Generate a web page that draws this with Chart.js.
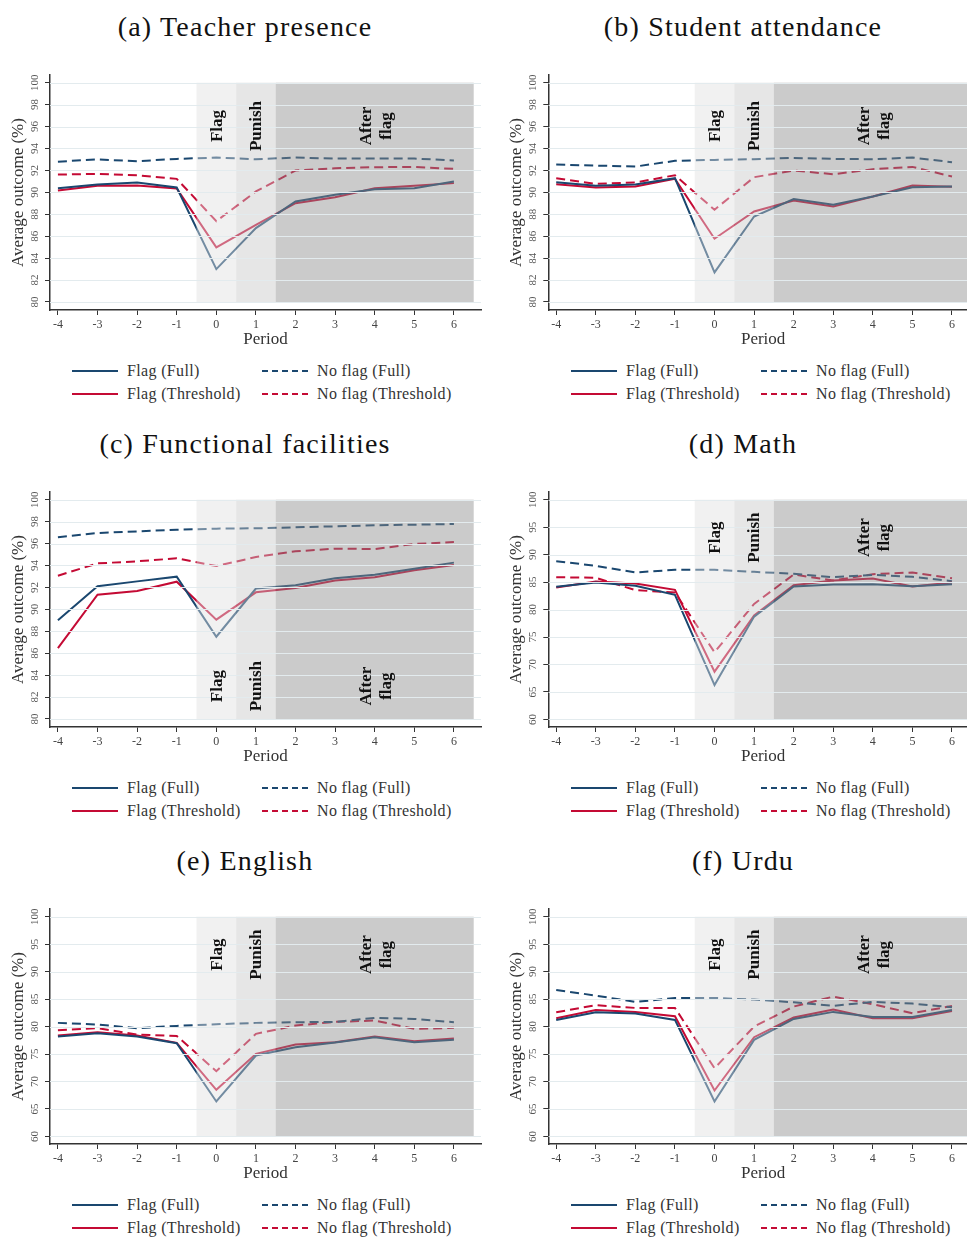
<!DOCTYPE html>
<html>
<head>
<meta charset="utf-8">
<script src="https://cdn.jsdelivr.net/npm/chart.js@4"></script>
<style>
  html, body { margin: 0; padding: 0; background: #fff; }
  body { width: 967px; height: 1239px; position: relative; overflow: hidden; }
  canvas { position: absolute; }
  .title { position: absolute; font-family: "Liberation Serif", serif; font-size: 28px; letter-spacing: 1.2px; color: #111; white-space: nowrap; transform: translate(-50%, -50%); }
  .leg { position: absolute; font-family: "Liberation Serif", serif; font-size: 16px; letter-spacing: 0.35px; color: #333; white-space: nowrap; transform: translateY(-50%); }
  .legline { position: absolute; }
</style>
</head>
<body>
<script>
// ---------------- data ----------------
const periods = [-4, -3, -2, -1, 0, 1, 2, 3, 4, 5, 6];
const ticks80 = [80, 82, 84, 86, 88, 90, 92, 94, 96, 98, 100];
const ticks60 = [60, 65, 70, 75, 80, 85, 90, 95, 100];
const panelTitles = ["(a) Teacher presence", "(b) Student attendance", "(c) Functional facilities", "(d) Math", "(e) English", "(f) Urdu"];
const seriesNames = ["Flag (Full)", "Flag (Threshold)", "No flag (Full)", "No flag (Threshold)"];
const phaseNames = ["Flag", "Punish", "After", "flag"];

// (a) Teacher presence
const teacherFlagFull = [90.38, 90.71, 90.90, 90.44, 83.00, 86.74, 89.17, 89.77, 90.29, 90.38, 90.99];
const teacherFlagThr  = [90.17, 90.60, 90.62, 90.35, 84.98, 87.04, 89.01, 89.56, 90.38, 90.60, 90.84];
const teacherNoFull   = [92.80, 93.00, 92.84, 93.05, 93.17, 93.02, 93.17, 93.08, 93.08, 93.08, 92.90];
const teacherNoThr    = [91.62, 91.68, 91.56, 91.23, 87.37, 90.08, 91.99, 92.20, 92.29, 92.32, 92.14];
// (b) Student attendance
const studentFlagFull = [90.93, 90.60, 90.71, 91.29, 82.70, 87.80, 89.38, 88.86, 89.62, 90.47, 90.53];
const studentFlagThr  = [90.74, 90.44, 90.53, 91.23, 85.77, 88.26, 89.26, 88.71, 89.62, 90.62, 90.50];
const studentNoFull   = [92.53, 92.44, 92.35, 92.87, 92.96, 93.02, 93.14, 93.05, 93.02, 93.17, 92.75];
const studentNoThr    = [91.29, 90.77, 90.90, 91.56, 88.41, 91.38, 91.99, 91.65, 92.11, 92.32, 91.44];
// (c) Functional facilities
const facilFlagFull = [89.00, 92.10, 92.55, 92.98, 87.50, 91.90, 92.20, 92.83, 93.16, 93.70, 94.26];
const facilFlagThr  = [86.47, 91.34, 91.67, 92.52, 89.06, 91.55, 91.95, 92.62, 92.92, 93.56, 94.04];
const facilNoFull   = [96.57, 96.96, 97.11, 97.26, 97.36, 97.39, 97.48, 97.57, 97.66, 97.72, 97.78];
const facilNoThr    = [93.07, 94.19, 94.38, 94.65, 93.95, 94.77, 95.29, 95.53, 95.50, 95.96, 96.14];
// (d) Math
const mathFlagFull = [84.13, 84.92, 84.32, 82.67, 66.26, 78.72, 84.19, 84.56, 84.62, 84.26, 84.62];
const mathFlagThr  = [84.01, 85.11, 84.74, 83.59, 68.69, 78.91, 84.44, 85.29, 85.65, 84.19, 84.92];
const mathNoFull   = [88.81, 87.96, 86.75, 87.23, 87.23, 86.87, 86.50, 85.90, 86.32, 85.96, 85.17];
const mathNoThr    = [85.90, 85.78, 83.53, 83.10, 72.22, 81.03, 86.38, 85.29, 86.44, 86.75, 85.71];
// (e) English
const englishFlagFull = [78.18, 78.79, 78.18, 76.97, 66.36, 74.73, 76.24, 77.09, 78.06, 77.15, 77.58];
const englishFlagThr  = [78.36, 78.97, 78.36, 77.03, 68.48, 75.03, 76.73, 77.15, 78.18, 77.33, 77.82];
const englishNoFull   = [80.67, 80.36, 79.70, 80.12, 80.42, 80.67, 80.79, 80.85, 81.58, 81.39, 80.79];
const englishNoThr    = [79.33, 79.70, 78.55, 78.30, 71.88, 78.67, 80.18, 80.85, 81.09, 79.58, 79.76];
// (f) Urdu
const urduFlagFull = [81.21, 82.61, 82.36, 81.21, 66.36, 77.58, 81.39, 82.67, 81.76, 81.76, 83.03];
const urduFlagThr  = [81.52, 83.03, 82.67, 81.88, 68.36, 78.06, 81.64, 83.09, 81.52, 81.52, 82.85];
const urduNoFull   = [86.67, 85.64, 84.48, 85.21, 85.21, 84.91, 84.42, 83.76, 84.48, 84.18, 83.52];
const urduNoThr    = [82.61, 83.88, 83.39, 83.39, 72.42, 80.00, 83.64, 85.45, 84.06, 82.42, 83.76];

// phase boundaries (in periods)
const phaseBounds = [-0.5, 0.5, 1.5, 6.5];

// ---------------- styling / layout ----------------
const NAVY = '#1a476f';
const RED = 'rgb(196,10,52)';
const FONT = '"Liberation Serif", "Times New Roman", serif';

const panels = [
  { data: [teacherFlagFull, teacherFlagThr, teacherNoFull, teacherNoThr], ticks: ticks80, yMin: 79.27, yMax: 100.70, labelY: 96.05, col: 0, row: 0 },
  { data: [studentFlagFull, studentFlagThr, studentNoFull, studentNoThr], ticks: ticks80, yMin: 79.27, yMax: 100.70, labelY: 96.05, col: 1, row: 0 },
  { data: [facilFlagFull, facilFlagThr, facilNoFull, facilNoThr], ticks: ticks80, yMin: 79.27, yMax: 100.70, labelY: 83.0, col: 0, row: 1 },
  { data: [mathFlagFull, mathFlagThr, mathNoFull, mathNoThr], ticks: ticks60, yMin: 58.62, yMax: 101.40, labelY: 93.1, col: 1, row: 1 },
  { data: [englishFlagFull, englishFlagThr, englishNoFull, englishNoThr], ticks: ticks60, yMin: 58.62, yMax: 101.40, labelY: 93.1, col: 0, row: 2 },
  { data: [urduFlagFull, urduFlagThr, urduNoFull, urduNoThr], ticks: ticks60, yMin: 58.62, yMax: 101.40, labelY: 93.1, col: 1, row: 2 }
];

const colGeom = [
  { left: 0, width: 485, padL: 0, padR: 4, xMax: 6.684, titleX: 245, legOff: 0 },
  { left: 490, width: 488, padL: 8.3, padR: 0, xMax: 6.657, titleX: 743, legOff: 499 }
];
const rowTop = [60, 477, 894];
const titleY = [27, 444, 861];

const overlayPlugin = {
  id: 'overlay',
  afterDatasetsDraw(chart, args, opts) {
    const { ctx, chartArea: ca, scales: { x, y } } = chart;
    const p = opts.panel;
    const yTop = y.getPixelForValue(p.ticks[p.ticks.length - 1]);
    const yBot = y.getPixelForValue(p.ticks[0]);
    const fills = ['rgba(224,224,224,0.45)', 'rgba(199,199,199,0.45)', 'rgba(139,139,139,0.45)'];
    ctx.save();
    ctx.beginPath();
    ctx.rect(ca.left, ca.top, ca.right - ca.left, ca.bottom - ca.top);
    ctx.clip();
    for (let i = 0; i < 3; i++) {
      const x0 = x.getPixelForValue(phaseBounds[i]);
      const x1 = x.getPixelForValue(phaseBounds[i + 1]);
      ctx.fillStyle = fills[i];
      ctx.fillRect(x0, yTop, x1 - x0, yBot - yTop);
    }
    // grid lines
    ctx.strokeStyle = '#e3ebee';
    ctx.lineWidth = 1;
    p.ticks.forEach(v => {
      const py = Math.round(y.getPixelForValue(v)) + 0.5;
      ctx.beginPath();
      ctx.moveTo(ca.left, py);
      ctx.lineTo(ca.right, py);
      ctx.stroke();
    });
    ctx.restore();
    // phase labels
    ctx.save();
    ctx.fillStyle = '#111';
    ctx.font = 'bold 17px ' + FONT;
    ctx.textAlign = 'center';
    ctx.textBaseline = 'middle';
    const ly = y.getPixelForValue(p.labelY);
    const drawRot = (txt, px) => {
      ctx.save();
      ctx.translate(px, ly);
      ctx.rotate(-Math.PI / 2);
      ctx.fillText(txt, 0, 0);
      ctx.restore();
    };
    drawRot(phaseNames[0], x.getPixelForValue(0) + 1);
    drawRot(phaseNames[1], x.getPixelForValue(1) + 1);
    drawRot(phaseNames[2], x.getPixelForValue(4) - 8);
    drawRot(phaseNames[3], x.getPixelForValue(4) + 12);
    ctx.restore();
  },
  afterDraw(chart, args, opts) {
    const { ctx, chartArea: ca, scales: { y } } = chart;
    const p = opts.panel;
    ctx.save();
    ctx.fillStyle = '#555';
    ctx.font = '11px ' + FONT;
    ctx.textAlign = 'center';
    ctx.textBaseline = 'middle';
    p.ticks.forEach(v => {
      ctx.save();
      ctx.translate(ca.left - 15, y.getPixelForValue(v));
      ctx.rotate(-Math.PI / 2);
      ctx.fillText(String(v), 0, 0);
      ctx.restore();
    });
    ctx.restore();
  }
};

function lineDs(label, values, color, dashed) {
  return {
    label,
    data: periods.map((p, i) => ({ x: p, y: values[i] })),
    borderColor: color,
    backgroundColor: color,
    borderWidth: 2,
    borderDash: dashed ? [9, 5] : [],
    pointRadius: 0,
    tension: 0,
    fill: false
  };
}

panels.forEach((p, idx) => {
  const g = colGeom[p.col];
  const top = rowTop[p.row];
  const cv = document.createElement('canvas');
  cv.width = g.width; cv.height = 290;
  cv.style.left = g.left + 'px'; cv.style.top = top + 'px';
  cv.style.width = g.width + 'px'; cv.style.height = '290px';
  document.body.appendChild(cv);

  new Chart(cv.getContext('2d'), {
    type: 'line',
    data: {
      datasets: [
        lineDs(seriesNames[0], p.data[0], NAVY, false),
        lineDs(seriesNames[1], p.data[1], RED, false),
        lineDs(seriesNames[2], p.data[2], NAVY, true),
        lineDs(seriesNames[3], p.data[3], RED, true)
      ]
    },
    options: {
      responsive: false,
      animation: false,
      devicePixelRatio: 1,
      layout: { autoPadding: false, padding: { left: g.padL, right: g.padR, top: 15, bottom: 0 } },
      plugins: { legend: { display: false }, tooltip: { enabled: false }, overlay: { panel: p } },
      scales: {
        x: {
          type: 'linear', min: -4.2, max: g.xMax,
          afterBuildTicks: s => { s.ticks = periods.map(v => ({ value: v })); },
          afterFit: s => { s.height = 40; },
          grid: { display: true, drawOnChartArea: false, drawTicks: true, tickLength: 5, color: '#333', lineWidth: 1 },
          border: { display: true, color: '#333', width: 1.5 },
          ticks: { color: '#444', font: { family: FONT, size: 12 }, padding: 3, maxRotation: 0, autoSkip: false },
          title: { display: true, text: 'Period', color: '#333', font: { family: FONT, size: 17 }, padding: { top: 0, bottom: 0 } }
        },
        y: {
          type: 'linear', min: p.yMin, max: p.yMax,
          afterBuildTicks: s => { s.ticks = p.ticks.map(v => ({ value: v })); },
          afterFit: s => { s.width = 50; },
          grid: { display: true, drawOnChartArea: false, drawTicks: true, tickLength: 5, color: '#333', lineWidth: 1 },
          border: { display: true, color: '#333', width: 1.5 },
          ticks: { display: false },
          title: { display: true, text: 'Average outcome (%)', color: '#333', font: { family: FONT, size: 17 }, padding: { top: 8, bottom: 0 } }
        }
      }
    },
    plugins: [overlayPlugin]
  });

  // title
  const t = document.createElement('div');
  t.className = 'title';
  t.textContent = panelTitles[idx];
  t.style.left = g.titleX + 'px';
  t.style.top = titleY[p.row] + 'px';
  document.body.appendChild(t);

  // legend
  const legBase = 371 + 417 * p.row;
  const items = [
    { name: seriesNames[0], color: NAVY, dash: false, cx: 72, row: 0 },
    { name: seriesNames[1], color: RED, dash: false, cx: 72, row: 1 },
    { name: seriesNames[2], color: NAVY, dash: true, cx: 262, row: 0 },
    { name: seriesNames[3], color: RED, dash: true, cx: 262, row: 1 }
  ];
  items.forEach(it => {
    const yy = legBase + it.row * 23;
    const svgNS = 'http://www.w3.org/2000/svg';
    const svg = document.createElementNS(svgNS, 'svg');
    svg.setAttribute('width', '46'); svg.setAttribute('height', '4');
    svg.setAttribute('class', 'legline');
    svg.style.left = (g.legOff + it.cx) + 'px';
    svg.style.top = (yy - 2) + 'px';
    const ln = document.createElementNS(svgNS, 'line');
    ln.setAttribute('x1', '0'); ln.setAttribute('y1', '2');
    ln.setAttribute('x2', '46'); ln.setAttribute('y2', '2');
    ln.setAttribute('stroke', it.color); ln.setAttribute('stroke-width', '2');
    if (it.dash) ln.setAttribute('stroke-dasharray', '6,4');
    svg.appendChild(ln);
    document.body.appendChild(svg);
    const d = document.createElement('div');
    d.className = 'leg';
    d.textContent = it.name;
    d.style.left = (g.legOff + it.cx + 55) + 'px';
    d.style.top = yy + 'px';
    document.body.appendChild(d);
  });
});
</script>
</body>
</html>
